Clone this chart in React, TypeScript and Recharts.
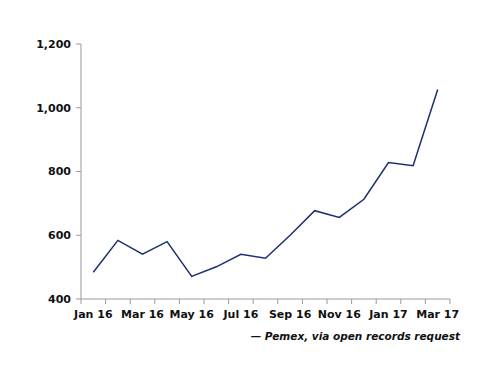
import React from "react";
import { LineChart, Line, XAxis, YAxis } from "recharts";

const months = [
  "Jan 16", "Feb 16", "Mar 16", "Apr 16", "May 16", "Jun 16", "Jul 16", "Aug 16",
  "Sep 16", "Oct 16", "Nov 16", "Dec 16", "Jan 17", "Feb 17", "Mar 17",
];
const values = [484, 584, 541, 580, 471, 501, 540, 528, 600, 677, 656, 713, 828, 818, 1057];
const yTicks = [400, 600, 800, 1000, 1200];
const sourceNote = "— Pemex, via open records request";

const data = months.map((m, i) => ({ i, month: m, value: values[i] }));

// boundary ticks (half positions) plus centered label ticks
const xTicks: number[] = [];
for (let k = 0; k <= months.length; k++) {
  xTicks.push(k - 0.5);
  if (k < months.length) xTicks.push(k);
}

const FONT = "'DejaVu Sans', Verdana, sans-serif";
const TICK_SIZE = 5;
const TICK_MARGIN = 2;

const XTick = (props: any) => {
  const { x, y, payload } = props;
  const v = payload.value as number;
  const axisY = y - TICK_SIZE - TICK_MARGIN;
  if (!Number.isInteger(v)) {
    return <line x1={x} x2={x} y1={axisY} y2={axisY + TICK_SIZE} stroke="#999" strokeWidth={1} />;
  }
  if (v % 2 !== 0) return <g />;
  return (
    <text x={x} y={axisY + 19} textAnchor="middle" fontFamily={FONT} fontWeight="bold" fontSize={11} fill="#111">
      {months[v]}
    </text>
  );
};

export default function App() {
  return (
    <div style={{ position: "absolute", left: 0, top: 0, width: 500, height: 386, background: "#fff" }}>
      <LineChart width={500} height={386} data={data} margin={{ top: 44, right: 50, left: 0, bottom: 47 }}>
        <XAxis
          dataKey="i"
          type="number"
          domain={[-0.5, months.length - 0.5]}
          ticks={xTicks}
          interval={0}
          tick={<XTick />}
          tickLine={false}
          tickSize={TICK_SIZE}
          tickMargin={TICK_MARGIN}
          axisLine={{ stroke: "#999" }}
          height={40}
        />
        <YAxis
          domain={[400, 1200]}
          ticks={yTicks}
          width={81}
          tickSize={5}
          tickMargin={5}
          tickLine={{ stroke: "#999" }}
          axisLine={{ stroke: "#999" }}
          tickFormatter={(v: number) => v.toLocaleString("en-US")}
          tick={{ fontFamily: FONT, fontWeight: "bold", fontSize: 11, fill: "#111" }}
        />
        <Line
          type="linear"
          dataKey="value"
          stroke="#1a2f6e"
          strokeWidth={1.5}
          dot={false}
          isAnimationActive={false}
        />
      </LineChart>
      <div
        style={{
          position: "absolute",
          right: 40,
          top: 330,
          fontFamily: FONT,
          fontWeight: "bold",
          fontStyle: "italic",
          fontSize: 10.5,
          color: "#111",
          whiteSpace: "nowrap",
        }}
      >
        {sourceNote}
      </div>
    </div>
  );
}
